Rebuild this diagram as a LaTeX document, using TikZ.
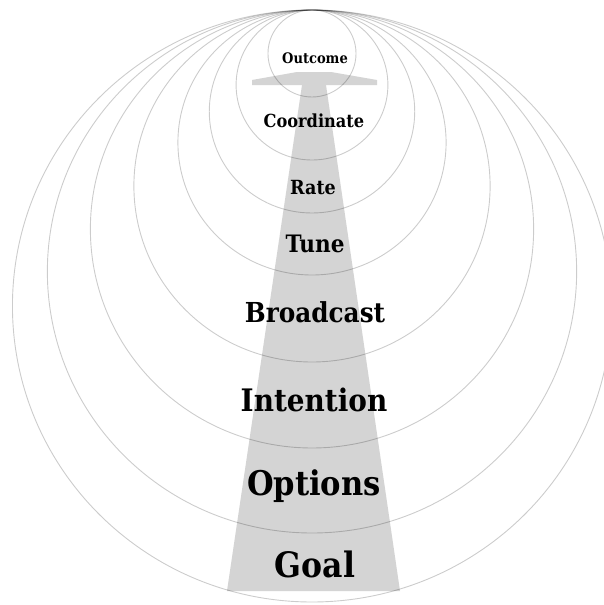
\documentclass[tikz,border=0pt]{standalone}
\usepackage{fontspec}
\newfontfamily\lblfont{DejaVu Serif Condensed Bold}
\definecolor{arrowgrey}{RGB}{212,212,212}
\tikzset{
  ring/.style={draw=black, draw opacity=0.2, line width=0.9pt},
  lbl/.style={font=\lblfont, text=black, anchor=base, inner sep=0pt},
  arrowshape/.style={fill=arrowgrey, draw=none}
}
\begin{document}
\begin{tikzpicture}[x=1pt,y=-1pt]
\useasboundingbox (0,0) rectangle (604,605);
\clip (0,0) rectangle (604,605);
\fill[white] (0,0) rectangle (604,605);
% arrow
\path[arrowshape] (227,591) -- (400,591) -- (326,85) -- (302,85) -- cycle;
\path[arrowshape] (252,80) -- (297,72) -- (331,72) -- (377,80) -- (377,85) -- (252,85) -- cycle;
% rings tangent at the top
\foreach \r in {43.5,75,101.5,132.5,176,219,261.5,296}{
  \draw[ring] (312,10+\r) ellipse [x radius=1.012*\r pt, y radius=\r pt];
}
% labels
\node[lbl, font=\lblfont\fontsize{14.5}{16}\selectfont] (outcome) at (315,63) {Outcome};
\node[lbl, font=\lblfont\fontsize{18}{20}\selectfont] (coordinate) at (314,127) {Coordinate};
\node[lbl, font=\lblfont\fontsize{19.5}{22}\selectfont] (rate) at (313,194) {Rate};
\node[lbl, font=\lblfont\fontsize{24}{26}\selectfont] (tune) at (315,252) {Tune};
\node[lbl, font=\lblfont\fontsize{27.5}{30}\selectfont] (broadcast) at (315,322) {Broadcast};
\node[lbl, font=\lblfont\fontsize{31}{34}\selectfont] (intention) at (314,411) {Intention};
\node[lbl, font=\lblfont\fontsize{34}{37}\selectfont] (options) at (314,495) {Options};
\node[lbl, font=\lblfont\fontsize{35}{38}\selectfont] (goal) at (315,577) {Goal};
\end{tikzpicture}
\end{document}
